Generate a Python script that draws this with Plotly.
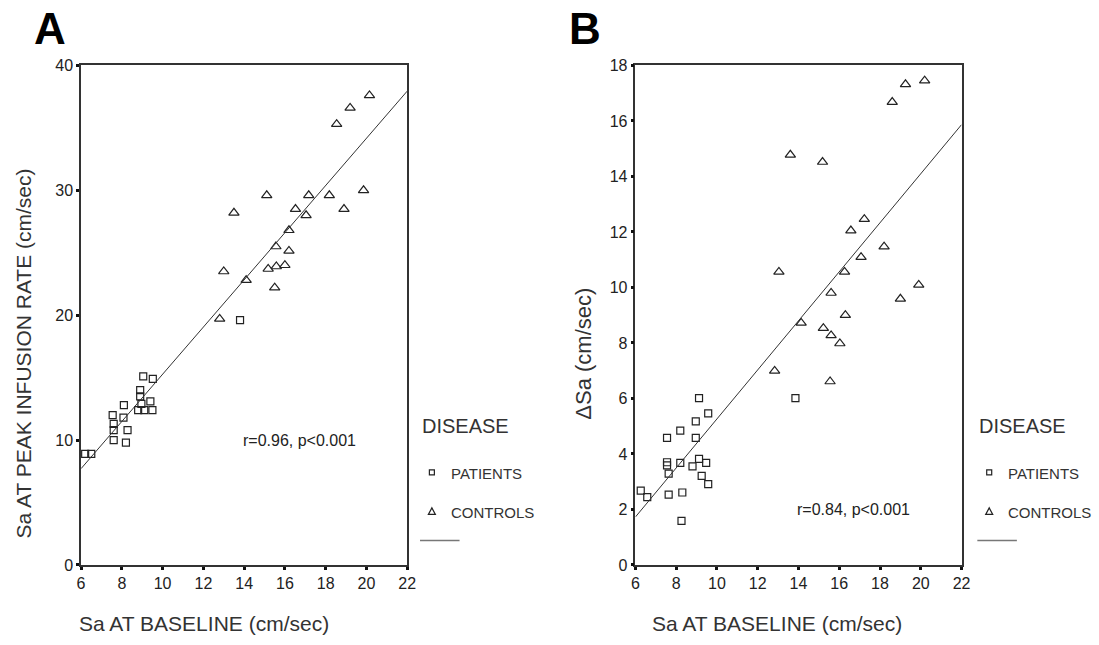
import numpy as np
import plotly.graph_objects as go

# ---- data -------------------------------------------------------------
# Panel A: Sa at baseline vs Sa at peak infusion rate (cm/sec)
patients_a_x = [9.05, 9.52, 8.9, 8.9, 8.1, 9.4, 8.96, 8.8, 9.1, 9.5,
                7.55, 8.08, 7.6, 7.6, 8.28, 7.6, 8.2, 6.2, 6.5, 13.8]
patients_a_y = [15.1, 14.9, 14.0, 13.5, 12.8, 13.1, 12.9, 12.4, 12.4, 12.4,
                12.0, 11.8, 11.3, 10.8, 10.8, 10.0, 9.8, 8.9, 8.9, 19.6]
controls_a_x = [20.15, 19.2, 18.54, 15.11, 13.5, 17.17, 18.18, 19.86, 16.52, 17.04,
                18.9, 16.2, 15.56, 16.2, 13.0, 15.18, 15.58, 16.0, 14.1, 15.5, 12.8]
controls_a_y = [37.6, 36.6, 35.3, 29.6, 28.2, 29.6, 29.6, 30.0, 28.5, 28.0,
                28.5, 26.8, 25.5, 25.15, 23.5, 23.7, 23.9, 24.0, 22.8, 22.2, 19.7]

# Panel B: Sa at baseline vs change in Sa (cm/sec)
patients_b_x = [13.85, 9.12, 9.57, 8.96, 8.2, 7.55, 8.96, 7.55, 7.55, 7.63, 8.2,
                8.8, 9.12, 9.47, 9.25, 9.57, 7.63, 8.3, 8.26, 6.26, 6.58]
patients_b_y = [6.01, 6.01, 5.46, 5.17, 4.84, 4.58, 4.58, 3.70, 3.59, 3.29, 3.68,
                3.55, 3.82, 3.68, 3.21, 2.91, 2.53, 2.61, 1.59, 2.68, 2.44]
controls_b_x = [20.19, 19.25, 18.6, 13.6, 15.18, 17.23, 16.57, 18.2, 17.07, 13.04,
                16.26, 19.9, 19.0, 15.6, 16.3, 14.13, 15.22, 15.6, 16.03, 12.83, 15.55]
controls_b_y = [17.45, 17.32, 16.68, 14.78, 14.52, 12.46, 12.05, 11.47, 11.09, 10.56,
                10.56, 10.09, 9.59, 9.80, 9.0, 8.72, 8.53, 8.27, 7.98, 6.99, 6.61]

x_ticks = [6, 8, 10, 12, 14, 16, 18, 20, 22]
y_ticks_a = [0, 10, 20, 30, 40]
y_ticks_b = [0, 2, 4, 6, 8, 10, 12, 14, 16, 18]
stats_a = "r=0.96, p<0.001"
stats_b = "r=0.84, p<0.001"
group_names = ["PATIENTS", "CONTROLS"]

# ---- figure geometry (pixels) -----------------------------------------
W, H = 1099, 645


def px(x):
    return x / W


def py(y):
    return 1 - y / H


INK = "#222222"
TXT = "#333333"
FONT = "Liberation Sans"

fig = go.Figure()


def add_panel(xa, ya, px_, py_, cx, cy):
    fig.add_trace(go.Scatter(
        x=px_, y=py_, mode="markers", xaxis=xa, yaxis=ya, showlegend=False,
        marker=dict(symbol="square-open", size=7, color=INK, line=dict(width=1.2)),
        cliponaxis=False))
    fig.add_trace(go.Scatter(
        x=cx, y=cy, mode="markers", xaxis=xa, yaxis=ya, showlegend=False,
        marker=dict(symbol="triangle-up-open", size=9, color=INK, line=dict(width=1.2)),
        cliponaxis=False))
    # least-squares line through all subjects
    allx = np.array(px_ + cx)
    ally = np.array(py_ + cy)
    slope, intercept = np.polyfit(allx, ally, 1)
    lx = np.array([x_ticks[0], x_ticks[-1]], dtype=float)
    fig.add_trace(go.Scatter(
        x=lx, y=intercept + slope * lx, mode="lines", xaxis=xa, yaxis=ya,
        showlegend=False, line=dict(color="#333333", width=1)))


add_panel("x", "y", patients_a_x, patients_a_y, controls_a_x, controls_a_y)
add_panel("x2", "y2", patients_b_x, patients_b_y, controls_b_x, controls_b_y)

axis_common = dict(
    showline=True, mirror=True, linecolor="#333333", linewidth=1.5,
    ticks="outside", ticklen=3, tickwidth=3, tickcolor="#111111",
    showgrid=False, zeroline=False,
    tickfont=dict(family=FONT, size=16, color=INK),
)
ydom = [py(572), py(59)]
fig.update_layout(
    width=W, height=H, margin=dict(l=0, r=0, t=0, b=0),
    paper_bgcolor="white", plot_bgcolor="white",
    xaxis=dict(domain=[px(78), px(408)], range=[6, 22], tickvals=x_ticks,
               anchor="y", **axis_common),
    yaxis=dict(domain=ydom, range=[0, 40], tickvals=y_ticks_a, anchor="x",
               **axis_common),
    xaxis2=dict(domain=[px(639), px(969)], range=[6, 22], tickvals=x_ticks,
                anchor="y2", **axis_common),
    yaxis2=dict(domain=ydom, range=[0, 18], tickvals=y_ticks_b, anchor="x2",
                **axis_common),
)

ann = []


def text(t, x, y, size, color=TXT, angle=0, xanchor="center", weight="normal"):
    ann.append(dict(text=t, x=px(x), y=py(y), xref="paper", yref="paper",
                    showarrow=False, textangle=angle, xanchor=xanchor,
                    yanchor="middle",
                    font=dict(family=FONT, size=size, color=color, weight=weight)))


# panel letters
text("A", 47, 21, 44, color="#000000", weight="bold")
text("B", 588, 21, 44, color="#000000", weight="bold")

# axis titles
text("Sa AT BASELINE (cm/sec)", 202, 632, 21)
text("Sa AT BASELINE (cm/sec)", 782, 632, 21)
text("Sa AT PEAK INFUSION RATE (cm/sec)", 20, 355, 21, angle=-90)
text("ΔSa (cm/sec)", 587, 355, 22, angle=-90)

# correlation statistics
text(stats_a, 299, 444, 16, color=INK)
text(stats_b, 860, 515, 16, color=INK)

# group keys
shapes = []
for lx0 in (421, 985):
    text("DISEASE", lx0, 429, 20, xanchor="left")
    text(group_names[0], lx0 + 29, 478, 15, xanchor="left")
    text(group_names[1], lx0 + 29, 518, 15, xanchor="left")
    shapes.append(dict(type="rect", xref="paper", yref="paper",
                       xsizemode="pixel", ysizemode="pixel",
                       xanchor=px(lx0 + 12), yanchor=py(477),
                       x0=-2.5, x1=2.5, y0=-2.5, y1=2.5,
                       line=dict(color=INK, width=1.2)))
    shapes.append(dict(type="path", xref="paper", yref="paper",
                       xsizemode="pixel", ysizemode="pixel",
                       xanchor=px(lx0 + 12), yanchor=py(517),
                       path="M -3.5,-3 L 3.5,-3 L 0,3.5 Z",
                       line=dict(color=INK, width=1.2)))
    shapes.append(dict(type="line", xref="paper", yref="paper",
                       x0=px(lx0), x1=px(lx0 + 40), y0=py(547), y1=py(547),
                       line=dict(color="#777777", width=1.5)))

fig.update_layout(annotations=ann, shapes=shapes)
fig.write_html("out.html")
